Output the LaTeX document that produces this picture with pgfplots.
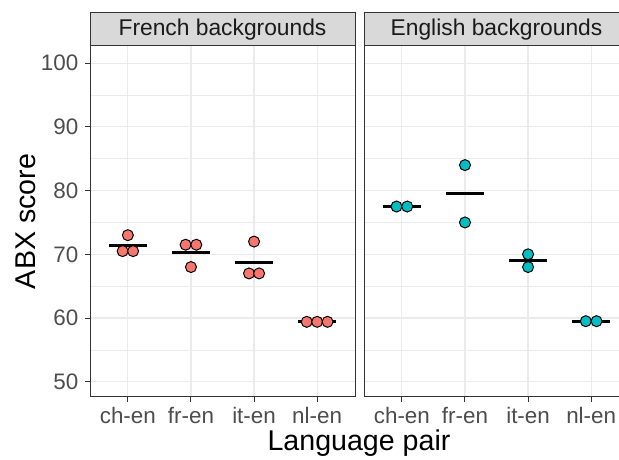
\documentclass[border=0pt]{standalone}
\usepackage{pgfplots}
\pgfplotsset{compat=1.18}
\usetikzlibrary{calc}
\usepackage{fontspec}
\setmainfont{Liberation Sans}

\definecolor{grey20}{HTML}{333333}
\definecolor{grey30}{HTML}{4D4D4D}
\definecolor{grey10}{HTML}{1A1A1A}
\definecolor{grey85}{HTML}{D9D9D9}
\definecolor{grey92}{HTML}{EBEBEB}
\definecolor{frcol}{HTML}{F8766D}
\definecolor{encol}{HTML}{00BFC4}

% 1 px of the reference = 0.5pt here
\pgfplotsset{
  facet/.style={
    scale only axis,
    height=175.5pt,
    anchor=south west,
    xmin=0.4,
    ymin=47.6, ymax=102.7,
    xtick={1,2,3,4},
    xticklabels={ch-en,fr-en,it-en,nl-en},
    ytick={50,60,70,80,90,100},
    minor ytick={55,65,75,85,95},
    grid=both,
    major grid style={grey92, line width=0.6pt},
    minor grid style={grey92, line width=0.35pt},
    axis line style={grey20, line width=0.5pt},
    tick align=outside,
    major tick length=2.3pt,
    minor tick length=0pt,
    tick style={grey20, line width=0.5pt},
    xtick pos=bottom, ytick pos=left,
    ticklabel style={font=\fontsize{11.2}{13}\selectfont, text=grey30},
    xticklabel style={yshift=0.8pt},
    /pgf/number format/assume math mode=true,
    clip=false,
  },
  pts/.style={only marks, mark=*, mark size=2.75pt,
    mark options={draw=black, line width=0.5pt, fill=#1}},
  avg/.style={black, line width=1.5pt},
}

\begin{document}
\begin{tikzpicture}
\useasboundingbox (0,0) rectangle (309.5pt,229.5pt);

\begin{axis}[facet, name=fr, at={(45pt,31pt)}, width=132.5pt, xmax=4.6]
  \addplot[pts=frcol] coordinates {(1,73.0) (0.917,70.5) (1.083,70.5)};
  \addplot[pts=frcol] coordinates {(1.915,71.5) (2.085,71.5) (2,68.0)};
  \addplot[pts=frcol] coordinates {(3,72.0) (2.92,67.0) (3.08,67.0)};
  \addplot[pts=frcol] coordinates {(3.835,59.4) (4,59.4) (4.165,59.4)};
  % means
  \addplot[avg] coordinates {(0.7,71.33) (1.3,71.33)};
  \addplot[avg] coordinates {(1.7,70.33) (2.3,70.33)};
  \addplot[avg] coordinates {(2.7,68.67) (3.3,68.67)};
  \addplot[avg] coordinates {(3.7,59.4) (4.3,59.4)};
\end{axis}

% right panel is cut off by the edge of the picture
\begin{axis}[facet, name=en, at={(182pt,31pt)}, width=127.5pt, xmax=4.441,
  axis lines*=left, axis line style={-},
  yticklabels={}, ytick style={draw=none}]
  \addplot[pts=encol] coordinates {(0.915,77.5) (1.085,77.5)};
  \addplot[pts=encol] coordinates {(2,84.0) (2,75.0)};
  \addplot[pts=encol] coordinates {(3,70.0) (3,68.0)};
  \addplot[pts=encol] coordinates {(3.915,59.5) (4.085,59.5)};
  % means
  \addplot[avg] coordinates {(0.7,77.5) (1.3,77.5)};
  \addplot[avg] coordinates {(1.7,79.5) (2.3,79.5)};
  \addplot[avg] coordinates {(2.7,69.0) (3.3,69.0)};
  \addplot[avg] coordinates {(3.7,59.5) (4.3,59.5)};
\end{axis}

% facet strips
\draw[fill=grey85, draw=grey20, line width=0.5pt]
  (fr.north west) rectangle ([yshift=16.65pt]fr.north east);
\node[font=\fontsize{11.4}{13}\selectfont, text=grey10]
  at ([yshift=8.3pt]$(fr.north west)!0.5!(fr.north east)$) {French backgrounds};
\fill[grey85] (en.north west) rectangle ([yshift=16.65pt]en.north east);
\draw[grey20, line width=0.5pt]
  (en.north east) -- (en.north west) -- ([yshift=16.65pt]en.north west) -- ([yshift=16.65pt]en.north east);
\node[font=\fontsize{11.4}{13}\selectfont, text=grey10]
  at ([xshift=66.25pt, yshift=8.3pt]en.north west) {English backgrounds};

% axis titles
\node[anchor=base, font=\fontsize{14.3}{17}\selectfont] at (179.5pt,4.5pt) {Language pair};
\node[anchor=base, rotate=90, font=\fontsize{14.3}{17}\selectfont] at (17.5pt,118.75pt) {ABX score};
\end{tikzpicture}
\end{document}
